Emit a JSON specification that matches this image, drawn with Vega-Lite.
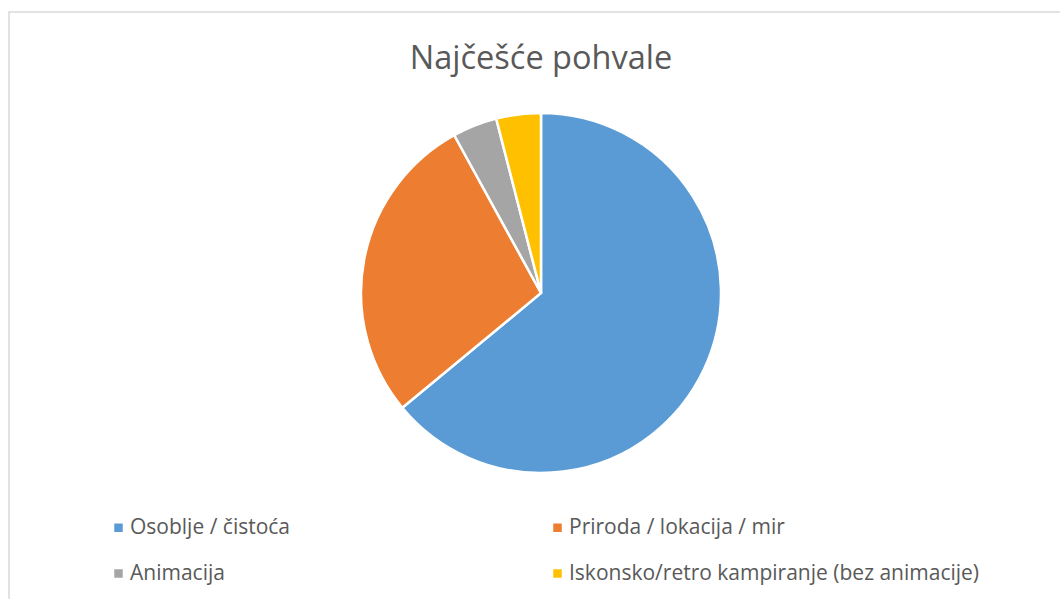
{
  "$schema": "https://vega.github.io/schema/vega-lite/v6.json",
  "width": 1064,
  "height": 600,
  "autosize": "none",
  "padding": {"left": 9, "top": 12, "right": 0, "bottom": 0},
  "background": "white",
  "config": {
    "view": {"stroke": null},
    "font": "Open Sans"
  },
  "title": {
    "text": "Najčešće pohvale",
    "frame": "group",
    "anchor": "middle",
    "offset": -64,
    "fontSize": 32.5,
    "fontWeight": "normal",
    "color": "#595959",
    "font": "Open Sans"
  },
  "data": {
    "values": [
      {"kategorija": "Osoblje / čistoća", "broj": 16, "red": 1},
      {"kategorija": "Priroda / lokacija / mir", "broj": 7, "red": 2},
      {"kategorija": "Animacija", "broj": 1, "red": 3},
      {"kategorija": "Iskonsko/retro kampiranje (bez animacije)", "broj": 1, "red": 4}
    ]
  },
  "layer": [
    {
      "data": {"values": [{"okvir": 1}]},
      "mark": {
        "type": "rect",
        "x": 0,
        "y": 0,
        "x2": {"expr": "width"},
        "y2": {"expr": "height"},
        "fill": null,
        "stroke": "#d9d9d9",
        "strokeWidth": 1.5
      },
      "encoding": {}
    },
    {
      "mark": {
        "type": "arc",
        "outerRadius": 180,
        "stroke": "white",
        "strokeWidth": 2.5,
        "y": {"expr": "height/2 - 19"}
      },
      "encoding": {
        "theta": {"field": "broj", "type": "quantitative", "stack": true},
        "order": {"field": "red", "type": "quantitative"},
        "color": {
          "field": "kategorija",
          "type": "nominal",
          "scale": {
            "domain": ["Osoblje / čistoća", "Priroda / lokacija / mir", "Animacija", "Iskonsko/retro kampiranje (bez animacije)"],
            "range": ["#5B9BD5", "#ED7D31", "#A5A5A5", "#FFC000"]
          },
          "legend": {
            "title": null,
            "orient": "none",
            "legendX": 99,
            "legendY": 505,
            "direction": "horizontal",
            "columns": 2,
            "gridAlign": "each",
            "columnPadding": 256,
            "rowPadding": 24,
            "symbolType": "square",
            "symbolSize": 72,
            "symbolStrokeWidth": 0,
            "labelOffset": 1,
            "labelFontSize": 21,
            "labelColor": "#595959",
            "labelFont": "Open Sans",
            "labelLimit": 600
          }
        }
      }
    }
  ]
}
